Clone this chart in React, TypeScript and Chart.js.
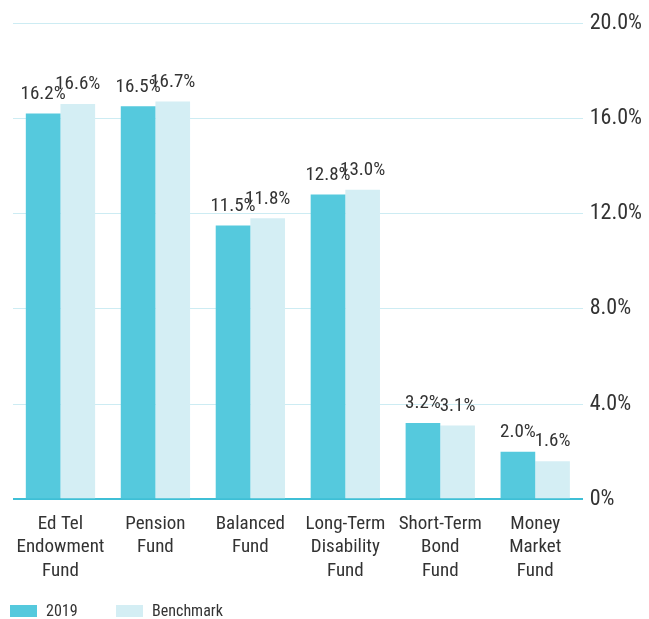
import React, { useEffect, useRef } from "react";
import { Chart, registerables } from "chart.js";

Chart.register(...registerables);

const categories: string[][] = [
  ["Ed Tel", "Endowment", "Fund"],
  ["Pension", "Fund"],
  ["Balanced", "Fund"],
  ["Long-Term", "Disability", "Fund"],
  ["Short-Term", "Bond", "Fund"],
  ["Money", "Market", "Fund"],
];
const series2019: number[] = [16.2, 16.5, 11.5, 12.8, 3.2, 2.0];
const seriesBenchmark: number[] = [16.6, 16.7, 11.8, 13.0, 3.1, 1.6];
const yTicks: number[] = [0, 4, 8, 12, 16, 20];
const seriesNames: string[] = ["2019", "Benchmark"];
const seriesColors: string[] = ["#55c9dd", "#d4eef4"];

const FONT = "'Roboto Condensed', 'Roboto', sans-serif";
const TEXT = "#333333";

const labelPlugin = {
  id: "barLabels",
  afterDatasetsDraw(chart: any) {
    const ctx = chart.ctx;
    ctx.save();
    ctx.font = `19px ${FONT}`;
    ctx.fillStyle = TEXT;
    ctx.textAlign = "center";
    ctx.textBaseline = "bottom";
    chart.data.datasets.forEach((ds: any, di: number) => {
      const meta = chart.getDatasetMeta(di);
      meta.data.forEach((el: any, i: number) => {
        const v = ds.data[i] as number;
        ctx.fillText(v.toFixed(1) + "%", el.x, el.y - 10);
      });
    });
    ctx.restore();
  },
};

export default function App() {
  const ref = useRef<HTMLCanvasElement | null>(null);
  useEffect(() => {
    if (!ref.current) return;
    const chart = new Chart(ref.current, {
      type: "bar",
      data: {
        labels: categories,
        datasets: [
          { label: seriesNames[0], data: series2019, backgroundColor: seriesColors[0], borderWidth: 0 },
          { label: seriesNames[1], data: seriesBenchmark, backgroundColor: seriesColors[1], borderWidth: 0 },
        ],
      },
      options: {
        animation: false,
        responsive: true,
        maintainAspectRatio: false,
        layout: { padding: { left: 13, right: 0, top: 23, bottom: 31 } },
        datasets: { bar: { categoryPercentage: 0.73, barPercentage: 1.0 } },
        plugins: {
          tooltip: { enabled: false },
          legend: { display: false },
        },
        scales: {
          x: {
            grid: { display: false },
            border: { display: false },
            ticks: {
              color: TEXT,
              font: { family: FONT, size: 19, lineHeight: 1.24 },
              maxRotation: 0,
              autoSkip: false,
              padding: 5,
            },
          },
          y: {
            position: "right",
            min: 0,
            max: 20,
            afterBuildTicks: (axis: any) => {
              axis.ticks = yTicks.map((v) => ({ value: v }));
            },
            grid: {
              color: (c: any) => (c.tick && c.tick.value === 0 ? "#3fbfd6" : "#cdecf3"),
              lineWidth: (c: any) => (c.tick && c.tick.value === 0 ? 2 : 1),
              drawTicks: false,
            },
            border: { display: false },
            ticks: {
              color: TEXT,
              font: { family: FONT, size: 22 },
              padding: 7,
              callback: (v: any) => (v === 0 ? "0%" : Number(v).toFixed(1) + "%"),
            },
          },
        },
      },
      plugins: [labelPlugin],
    });
    return () => chart.destroy();
  }, []);
  const legendLeft = [10, 116];
  return (
    <div style={{ position: "fixed", left: 0, top: 0, width: 649, height: 619, background: "#fff" }}>
      <canvas ref={ref} />
      {seriesNames.map((n, i) => (
        <div
          key={n}
          style={{
            position: "absolute",
            left: legendLeft[i],
            top: 601,
            display: "flex",
            alignItems: "center",
            fontFamily: FONT,
            fontSize: 16,
            color: TEXT,
            lineHeight: "20px",
          }}
        >
          <span style={{ display: "inline-block", width: 27, height: 12, background: seriesColors[i], marginRight: 9 }} />
          {n}
        </div>
      ))}
    </div>
  );
}
